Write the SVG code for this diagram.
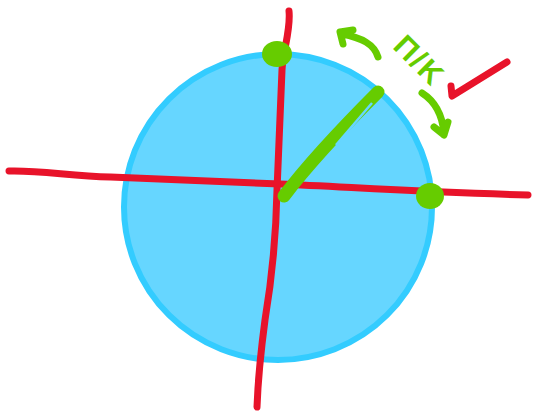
<svg xmlns="http://www.w3.org/2000/svg" width="539" height="419" viewBox="0 0 539 419">
<style>
.red{fill:none;stroke:#e8132a;stroke-width:7;stroke-linecap:round;stroke-linejoin:round}
.grn{fill:none;stroke:#66cc00;stroke-width:7;stroke-linecap:round;stroke-linejoin:round}
.dot{fill:#66cc00}
.lbl{font-family:"Liberation Sans",Arial,sans-serif;font-weight:bold;font-size:30px;fill:#66cc00;letter-spacing:2px}
</style>
<rect width="539" height="419" fill="#ffffff"/>
<g id="circle">
<ellipse cx="278" cy="207" rx="154" ry="153" fill="#66d6ff" stroke="#33ccff" stroke-width="6"/>
</g>
<g id="connectors">
<path class="red" d="M9 171 C40 170 70 176 110 177 C170 179 230 182 280 184 C350 187 420 192 528 195"/>
<path class="red" d="M289 11 C291 30 283 50 282 70 C280 110 279 150 277 190 C276 240 270 290 265 320 C261 350 258 380 257 407"/>
<path class="red" d="M507 62 L452 96 L451 86"/>
<path class="grn" d="M378 57 C374 44 362 38 342 34 M340 32 L343 44 M340 32 L353 30"/>
<path class="grn" d="M422 93 C433 100 442 112 444 133 M444 135 L434 127 M444 135 L448 122"/>
</g>
<g id="vector">
<path d="M284 196 C300 175 330 140 378 92" fill="none" stroke="#66cc00" stroke-width="13" stroke-linecap="round"/>
<path d="M336 145 L372 103" fill="none" stroke="#66d6ff" stroke-width="2.5"/>
</g>
<g id="point-top">
<ellipse class="dot" cx="277" cy="54" rx="15" ry="13"/>
</g>
<g id="point-right">
<ellipse class="dot" cx="430" cy="196" rx="14" ry="13"/>
</g>
<g id="label">
<text class="lbl" x="420" y="71" text-anchor="middle" transform="rotate(45 420 60)">Π/K</text>
</g>
</svg>
